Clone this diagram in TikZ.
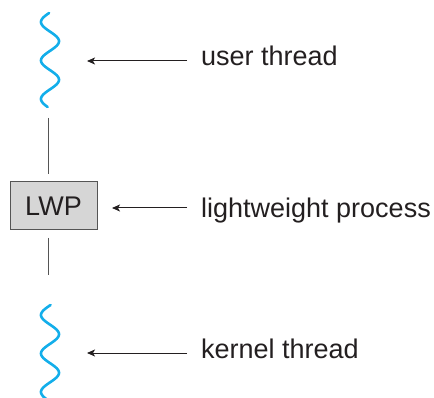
\documentclass[tikz,border=0pt]{standalone}
\usepackage{fontspec}
\setmainfont{Liberation Sans}
\usetikzlibrary{arrows.meta}
\definecolor{wavec}{HTML}{13AEEA}
\definecolor{txt}{HTML}{231F20}
\definecolor{boxfill}{HTML}{D6D6D6}
\definecolor{linec}{HTML}{555555}
\tikzset{
  wave/.style={wavec, line width=2.6pt, line cap=round},
  conn/.style={linec, line width=1pt},
  arr/.style={txt, line width=1pt, -{Stealth[length=8pt,width=7pt,inset=2pt]}},
  lbl/.style={anchor=base west, inner sep=0pt, text=txt, font=\fontsize{27}{30}\selectfont},
  lwpbox/.style={draw=linec, fill=boxfill, line width=1pt, minimum width=87pt, minimum height=48pt, inner sep=0pt, text=txt, font=\fontsize{27}{30}\selectfont}
}
\begin{document}
\begin{tikzpicture}[x=1pt,y=-1pt]
\useasboundingbox (0,0) rectangle (434,398);
\begin{scope}
\clip (0,0) rectangle (434,398);
% waves
\draw[wave] plot[domain=13:107, samples=120] ({50-9*cos(9.3506*(\x-22))}, \x);
\draw[wave] plot[domain=305:402, samples=120] ({50-9*cos(9.3506*(\x-315))}, \x);
\end{scope}
% box
\node[lwpbox] (lwp) at (53.5,206) {LWP};
\coordinate (ta) at (48,118);
\coordinate (tb) at (48,174);
\coordinate (ba) at (48,238);
\coordinate (bb) at (48,275);
\draw[conn] (ta) -- (tb);
\draw[conn] (ba) -- (bb);
% labels
\node[lbl] (ut) at (201,66) {user thread};
\node[lbl] (lp) at (201,218) {lightweight process};
\node[lbl] (kt) at (201,358) {kernel thread};
\coordinate (utT) at (87,61);
\coordinate (lpT) at (112,208);
\coordinate (ktT) at (87,353);
\coordinate (utS) at (187,61);
\coordinate (lpS) at (187,208);
\coordinate (ktS) at (187,353);
\draw[arr] (utS) -- (utT);
\draw[arr] (lpS) -- (lpT);
\draw[arr] (ktS) -- (ktT);
\end{tikzpicture}
\end{document}
